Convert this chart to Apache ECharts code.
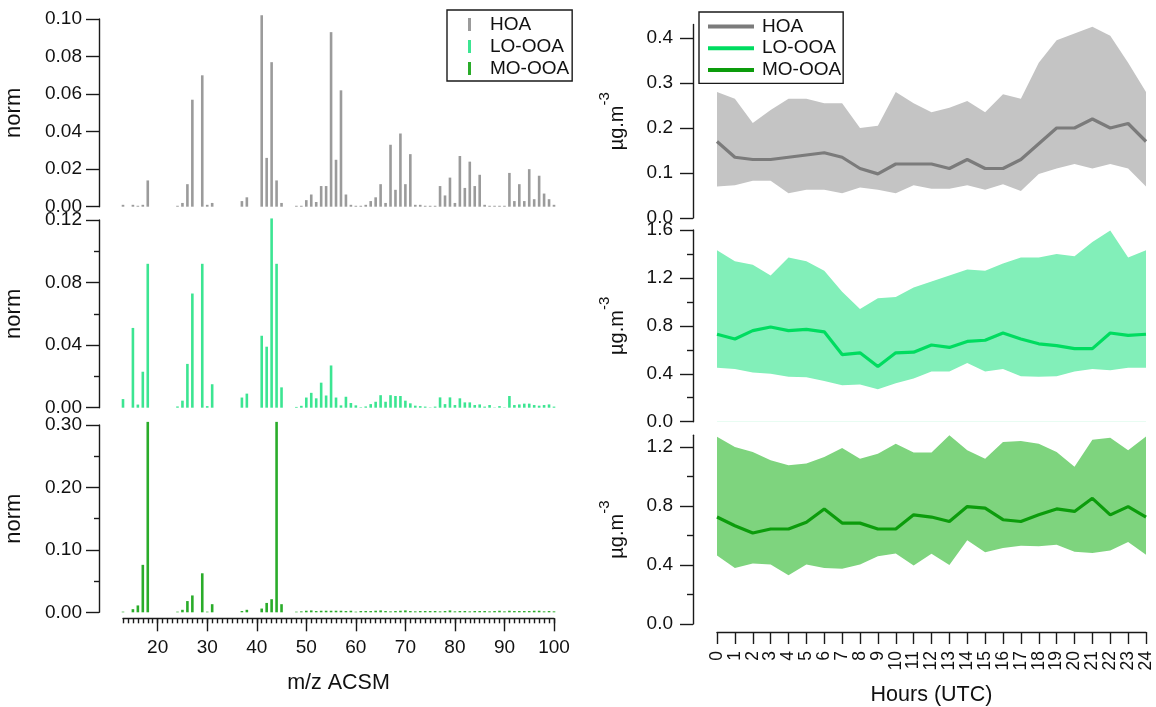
<!DOCTYPE html>
<html><head><meta charset="utf-8">
<script src="https://cdn.jsdelivr.net/npm/echarts@6/dist/echarts.min.js"></script>
<style>html,body{margin:0;padding:0;background:#fff}#c{width:1156px;height:707px}</style>
</head><body><div id="c"></div>
<script>
// ---------- data ----------
const mz = [13,15,16,17,18,24,25,26,27,29,30,31,37,38,41,42,43,44,45,
  48,49,50,51,52,53,54,55,56,57,58,59,60,61,62,63,64,65,66,67,68,69,70,
  71,72,73,74,75,76,77,78,79,80,81,82,83,84,85,86,87,88,89,90,
  91,92,93,94,95,96,97,98,99,100];
const hoaSpec = [0.001,0.001,0.0005,0.001,0.014,0.0005,0.002,0.012,0.057,0.070,0.001,0.002,0.003,0.005,0.102,0.026,0.077,0.014,0.002,
  0.0005,0.0005,0.0035,0.0065,0.0025,0.011,0.011,0.093,0.025,0.062,0.0065,0.001,0.0005,0.0005,0.001,0.003,0.005,0.012,0.002,0.033,0.009,0.039,0.012,
  0.028,0.001,0.001,0.0005,0.0005,0.0005,0.011,0.006,0.0155,0.002,0.027,0.010,0.024,0.011,0.017,0.001,0.0005,0.0005,0.0005,0.0005,
  0.018,0.003,0.012,0.003,0.020,0.004,0.0165,0.007,0.004,0.001];
const looSpec = [0.0055,0.051,0.002,0.023,0.092,0.0008,0.0045,0.028,0.073,0.092,0.001,0.015,0.0065,0.009,0.046,0.039,0.121,0.092,0.013,
  0.0005,0.0012,0.0065,0.0095,0.006,0.016,0.0078,0.027,0.0065,0.0015,0.007,0.003,0.0015,0.0003,0.0008,0.0023,0.0038,0.008,0.0038,0.008,0.0075,0.0075,0.0045,
  0.0028,0.0013,0.001,0.0007,0.0002,0.0007,0.0066,0.0023,0.0066,0.0017,0.006,0.0034,0.0034,0.0017,0.0021,0.0007,0.0017,0.0002,0.001,0.0002,
  0.0075,0.0017,0.0021,0.0026,0.0026,0.0017,0.0013,0.0017,0.0021,0.0007];
const mooSpec = [0.001,0.005,0.011,0.076,0.305,0.001,0.004,0.018,0.027,0.0625,0.001,0.013,0.002,0.004,0.006,0.015,0.021,0.305,0.013,
  0.001,0.0015,0.0025,0.003,0.002,0.0025,0.0025,0.0025,0.0025,0.0025,0.002,0.0025,0.001,0.002,0.002,0.002,0.0025,0.003,0.002,0.0015,0.002,0.0025,0.003,
  0.002,0.0015,0.002,0.002,0.002,0.002,0.0015,0.002,0.003,0.0015,0.002,0.002,0.0015,0.002,0.002,0.002,0.0015,0.002,0.0025,0.0015,
  0.0025,0.002,0.002,0.002,0.002,0.0025,0.0025,0.0015,0.002,0.0015];
const mzTickLabels = [20,30,40,50,60,70,80,90,100];

const hours = [0,1,2,3,4,5,6,7,8,9,10,11,12,13,14,15,16,17,18,19,20,21,22,23,24];
const hoaMed  = [0.17,0.135,0.13,0.13,0.135,0.14,0.145,0.135,0.11,0.098,0.12,0.12,0.12,0.11,0.13,0.11,0.11,0.13,0.165,0.20,0.20,0.22,0.20,0.21,0.17];
const hoaHigh = [0.28,0.265,0.211,0.24,0.265,0.265,0.255,0.255,0.20,0.205,0.28,0.255,0.235,0.245,0.26,0.235,0.275,0.265,0.345,0.395,0.41,0.425,0.405,0.345,0.28];
const hoaLow  = [0.07,0.073,0.083,0.083,0.055,0.063,0.063,0.055,0.068,0.063,0.055,0.073,0.065,0.065,0.073,0.063,0.075,0.06,0.098,0.11,0.12,0.11,0.12,0.11,0.07];
const looMed  = [0.73,0.69,0.76,0.79,0.76,0.77,0.75,0.56,0.575,0.46,0.575,0.58,0.64,0.62,0.67,0.68,0.74,0.69,0.65,0.635,0.61,0.61,0.74,0.72,0.73];
const looHigh = [1.43,1.34,1.31,1.22,1.37,1.34,1.26,1.085,0.94,1.03,1.04,1.12,1.17,1.22,1.27,1.26,1.32,1.37,1.37,1.40,1.38,1.50,1.595,1.37,1.43];
const looLow  = [0.45,0.44,0.41,0.40,0.375,0.37,0.34,0.305,0.31,0.27,0.32,0.36,0.42,0.42,0.49,0.42,0.44,0.38,0.375,0.38,0.42,0.44,0.43,0.45,0.45];
const mooMed  = [0.725,0.666,0.617,0.644,0.644,0.69,0.78,0.684,0.684,0.644,0.644,0.74,0.725,0.695,0.796,0.785,0.707,0.695,0.74,0.78,0.763,0.852,0.74,0.796,0.725];
const mooHigh = [1.27,1.2,1.166,1.11,1.077,1.088,1.133,1.193,1.12,1.155,1.222,1.162,1.162,1.279,1.178,1.12,1.234,1.24,1.222,1.166,1.066,1.25,1.263,1.178,1.272];
const mooLow  = [0.464,0.38,0.41,0.404,0.33,0.404,0.38,0.375,0.404,0.46,0.478,0.397,0.476,0.4,0.567,0.487,0.516,0.53,0.527,0.538,0.489,0.482,0.498,0.556,0.47];

// ---------- style ----------
const FONT = 'Liberation Sans, Arial, sans-serif';
const AX = '#1a1a1a';
const C = {
  hoaBar:'#9b9b9b', looBar:'#3ce592', mooBar:'#2aac2a',
  hoaLine:'#7b7b7b', hoaBand:'#c4c4c4',
  looLine:'#00dc60', looBand:'#82efb9',
  mooLine:'#0c9c0c', mooBand:'#7ed47e'
};
const lineS = {color:AX, width:1.4};
const labS = {color:'#111', fontSize:19, fontFamily:FONT};

function grid(left, top, width, height){ return {left, top, width, height, containLabel:false}; }
const grids = [
  grid(123, 19, 431, 187.7),
  grid(123, 220, 431, 187.7),
  grid(123, 425, 431, 187.3),
  grid(717, 218-0.43*450, 429, 0.43*450),
  grid(717, 230, 429, 191.7),
  grid(717, 624-1.28*147.5, 429, 1.28*147.5)
];

function hiddenX(gi, min, max){
  return {type:'value', gridIndex:gi, min, max, show:false};
}
const xAxes = [
  hiddenX(0,13,100), hiddenX(1,13,100),
  {type:'value', gridIndex:2, min:13, max:100, position:'bottom', offset:6,
   axisLine:{show:true, onZero:false, lineStyle:lineS},
   axisTick:{show:true, customValues:mzTickLabels, length:13, lineStyle:lineS},
   axisLabel:{show:true, customValues:mzTickLabels, margin:20, ...labS},
   splitLine:{show:false},
   name:'m/z ACSM', nameLocation:'middle', nameGap:54,
   nameTextStyle:{fontSize:21.5, color:'#111', fontFamily:FONT}},
  {type:'value', gridIndex:2, min:13, max:100, position:'bottom', offset:6,
   axisLine:{show:false, onZero:false},
   axisTick:{show:true, customValues:mz.concat([14,19,20,21,22,23,28,32,33,34,35,36,39,40,46,47]), length:5, lineStyle:lineS},
   axisLabel:{show:false}, splitLine:{show:false}},
  hiddenX(3,0,24), hiddenX(4,0,24),
  {type:'value', gridIndex:5, min:0, max:24, interval:1, position:'bottom', offset:8,
   axisLine:{show:true, onZero:false, lineStyle:lineS},
   axisTick:{show:true, length:12, lineStyle:lineS},
   axisLabel:{show:true, rotate:90, margin:19, ...labS, fontSize:17.5},
   splitLine:{show:false},
   name:'Hours (UTC)', nameLocation:'middle', nameGap:52,
   nameTextStyle:{fontSize:21.5, color:'#111', fontFamily:FONT}}
];

function yAx(gi, max, opts){
  return Object.assign({type:'value', gridIndex:gi, min:0, max, position:'left',
    axisLine:{show:true, onZero:false, lineStyle:lineS},
    splitLine:{show:false}}, opts);
}
const normName = {name:'norm', nameLocation:'middle', nameGap:74, nameRotate:90,
  nameTextStyle:{fontSize:22, color:'#111', fontFamily:FONT}};
const ugName = {name:'{a|µg.m}{b|-3}', nameLocation:'middle', nameGap:66, nameRotate:90,
  nameTextStyle:{color:'#111', fontFamily:FONT,
    rich:{a:{fontSize:20, fontFamily:FONT, color:'#111', lineHeight:30, verticalAlign:'bottom'},
          b:{fontSize:15, fontFamily:FONT, color:'#111', lineHeight:15, verticalAlign:'top'}}}};
const yAxes = [
  yAx(0, 0.10, {interval:0.02, offset:24,
    axisTick:{show:true, length:13, lineStyle:lineS},
    axisLabel:{margin:17, formatter:v=>v.toFixed(2), ...labS}, ...normName}),
  yAx(1, 0.12, {interval:0.04, offset:24,
    axisTick:{show:true, length:13, lineStyle:lineS},
    minorTick:{show:true, splitNumber:2, length:5, lineStyle:lineS},
    axisLabel:{margin:17, formatter:v=>v.toFixed(2), ...labS}, ...normName}),
  yAx(2, 0.30, {interval:0.10, offset:24,
    axisTick:{show:true, length:13, lineStyle:lineS},
    minorTick:{show:true, splitNumber:2, length:5, lineStyle:lineS},
    axisLabel:{margin:17, formatter:v=>v.toFixed(2), ...labS}, ...normName}),
  yAx(3, 0.43, {offset:24,
    axisTick:{show:true, length:13, customValues:[0,0.1,0.2,0.3,0.4], lineStyle:lineS},
    axisLabel:{margin:20, customValues:[0,0.1,0.2,0.3,0.4], formatter:v=>v.toFixed(1), ...labS}, ...ugName}),
  yAx(4, 1.6, {interval:0.4, offset:24,
    axisTick:{show:true, length:13, lineStyle:lineS},
    minorTick:{show:true, splitNumber:2, length:6, lineStyle:lineS},
    axisLabel:{margin:20, formatter:v=>v.toFixed(1), ...labS}, ...ugName}),
  yAx(5, 1.28, {offset:24,
    axisTick:{show:true, length:13, customValues:[0,0.4,0.8,1.2], lineStyle:lineS},
    axisLabel:{margin:20, customValues:[0,0.4,0.8,1.2], formatter:v=>v.toFixed(1), ...labS}, ...ugName}),
  yAx(5, 1.28, {offset:24, axisLine:{show:false, onZero:false},
    axisTick:{show:true, length:6, customValues:[0.2,0.6,1.0], lineStyle:lineS},
    axisLabel:{show:false}})
];

function bars(name, vals, color, xi, yi){
  return {type:'bar', name, xAxisIndex:xi, yAxisIndex:yi, barWidth:2.6, clip:false,
    itemStyle:{color}, silent:true, animation:false,
    data: mz.map((m,i)=>[m, vals[i]])};
}
// band = upper area (filled to axis 0) masked below the lower bound by a white area
function band(id, low, high, color, xi, yi){
  return [
    {type:'line', name:id+'_hi', xAxisIndex:xi, yAxisIndex:yi, symbol:'none', silent:true,
     lineStyle:{width:0, opacity:0}, areaStyle:{color, opacity:1, origin:'start'},
     data:hours.map((h,i)=>[h, high[i]]), animation:false, clip:false, z:1},
    {type:'line', name:id+'_lo', xAxisIndex:xi, yAxisIndex:yi, symbol:'none', silent:true,
     lineStyle:{width:0, opacity:0}, areaStyle:{color:'#ffffff', opacity:1, origin:'start'},
     data:hours.map((h,i)=>[h, low[i]]), animation:false, clip:false, z:2}
  ];
}
function med(name, vals, color, xi, yi){
  return {type:'line', name, xAxisIndex:xi, yAxisIndex:yi, symbol:'none', silent:true,
    lineStyle:{color, width:3.2}, itemStyle:{color}, data:hours.map((h,i)=>[h, vals[i]]),
    animation:false, clip:false, z:3};
}

const series = [
  bars('HOA', hoaSpec, C.hoaBar, 0, 0),
  bars('LO-OOA', looSpec, C.looBar, 1, 1),
  bars('MO-OOA', mooSpec, C.mooBar, 2, 2),
  ...band('b1', hoaLow, hoaHigh, C.hoaBand, 4, 3),
  med('HOA ', hoaMed, C.hoaLine, 4, 3),
  ...band('b2', looLow, looHigh, C.looBand, 5, 4),
  med('LO-OOA ', looMed, C.looLine, 5, 4),
  ...band('b3', mooLow, mooHigh, C.mooBand, 6, 5),
  med('MO-OOA ', mooMed, C.mooLine, 6, 5)
];

const legTxt = {fontSize:19, fontFamily:FONT, color:'#111', lineHeight:19};
const legends = [
  {orient:'vertical', left:447, top:10, data:['HOA','LO-OOA','MO-OOA'],
   icon:'rect', itemWidth:3, itemHeight:13, itemGap:3,
   padding:[5,3,3,21], borderColor:AX, borderWidth:1.4, backgroundColor:'#fff',
   textStyle:{...legTxt, padding:[0,0,0,14]}, selectedMode:false},
  {orient:'vertical', left:699, top:12, data:['HOA ','LO-OOA ','MO-OOA '],
   icon:'rect', itemWidth:46, itemHeight:4, itemGap:2.7,
   padding:[5,2,4,9], borderColor:AX, borderWidth:1.4, backgroundColor:'#fff',
   textStyle:{...legTxt, padding:[0,0,0,3]}, formatter:n=>n.trim(), selectedMode:false}
];

const chart = echarts.init(document.getElementById('c'), null, {renderer:'canvas'});
chart.setOption({
  animation:false, backgroundColor:'#fff',
  grid:grids, xAxis:xAxes, yAxis:yAxes, legend:legends, series
});
</script></body></html>
